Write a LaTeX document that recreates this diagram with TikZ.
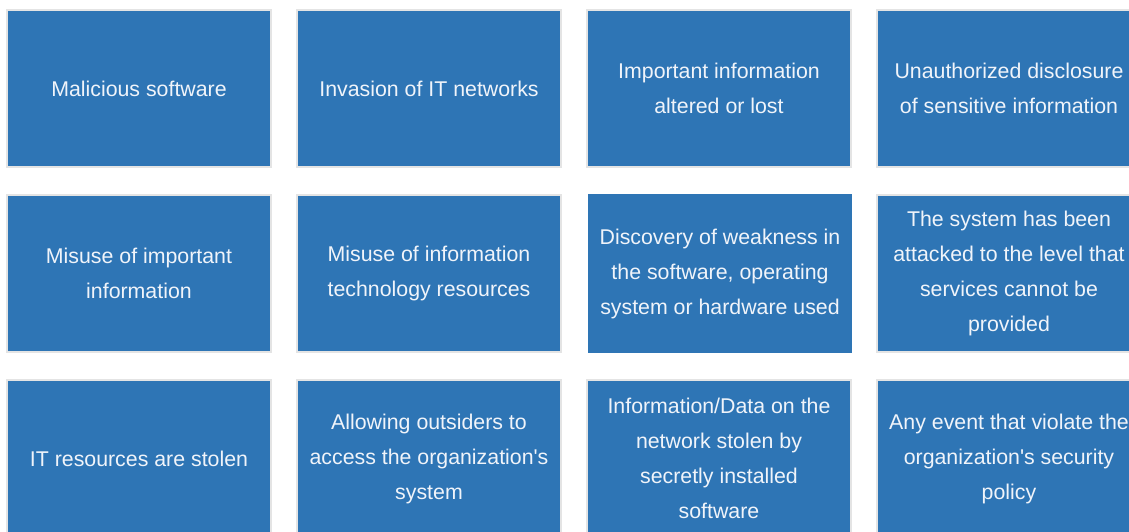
\documentclass[tikz,border=0pt]{standalone}
\usepackage{fontspec}
\setmainfont{Liberation Sans}
\usepackage{xcolor}
\usetikzlibrary{positioning}
\definecolor{cellblue}{HTML}{2E75B5}
\definecolor{cellrim}{HTML}{E4E4E4}
\definecolor{celltext}{HTML}{F0F4FA}

\begin{document}
\begin{tikzpicture}[x=0.75pt,y=-0.75pt,
  every node/.style={font=\fontsize{16}{26.25}\selectfont},
  cell/.style={draw=cellrim,line width=1.5pt,fill=cellblue,text=celltext,align=center,
    minimum width=198pt,minimum height=117.75pt,inner sep=0pt},
  hot/.style={cell,draw=none,minimum width=198pt,minimum height=119.25pt}]
\useasboundingbox (0,0) rectangle (1129,532);
\node[cell] (malware) at (139,88.5) {Malicious software};
\node[cell] (invasion) at (429,88.5) {Invasion of IT networks};
\node[cell] (altered) at (719,88.5) {Important information\\altered or lost};
\node[cell] (disclose) at (1009,88.5) {Unauthorized disclosure\\of sensitive information};
\node[cell] (misinfo) at (139,273.5) {Misuse of important\\information};
\node[cell] (misres) at (429,273.5) {Misuse of information\\technology resources};
\node[hot] (weak) at (720,273.5) {Discovery of weakness in\\the software, operating\\system or hardware used};
\node[cell] (attack) at (1009,273.5) {The system has been\\attacked to the level that\\services cannot be\\provided};
\node[cell] (stolen) at (139,458.5) {IT resources are stolen};
\node[cell] (outside) at (429,458.5) {Allowing outsiders to\\access the organization\textquotesingle s\\system};
\node[cell] (sniff) at (719,458.5) {Information/Data on the\\network stolen by\\secretly installed\\software};
\node[cell] (policy) at (1009,458.5) {Any event that violate the\\organization\textquotesingle s security\\policy};
\end{tikzpicture}
\end{document}
